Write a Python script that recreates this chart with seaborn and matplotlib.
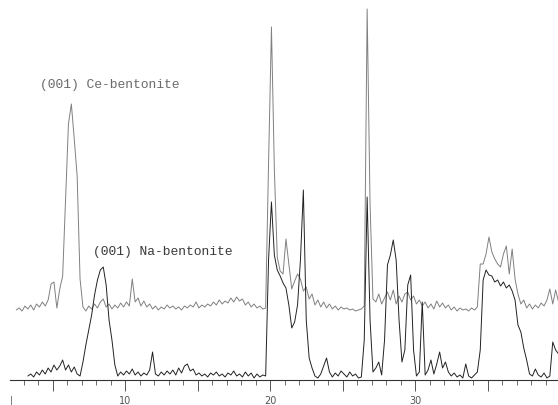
import numpy as np
import pandas as pd
import matplotlib
matplotlib.use("Agg")
import matplotlib.pyplot as plt
import seaborn as sns

sns.set_theme(style="white")

# 2-theta scan, 0.2 deg steps from 2.5 to 39.9
two_theta = np.round(np.arange(188) * 0.2 + 2.5, 2)

# Ce-bentonite intensity (a.u., own baseline), shown with an offset
ce_bentonite = [
    4, 6, 3, 8, 5, 9, 4, 10, 7, 12,
    8, 14, 30, 32, 6, 25, 38, 115, 190, 210,
    175, 138, 35, 7, 3, 8, 5, 10, 6, 12,
    15, 7, 10, 5, 9, 6, 11, 7, 12, 8,
    35, 12, 16, 8, 13, 7, 10, 5, 8, 4,
    7, 5, 9, 6, 8, 5, 7, 4, 8, 6,
    9, 7, 12, 6, 9, 7, 10, 8, 12, 9,
    14, 10, 13, 11, 16, 12, 17, 13, 15, 9,
    12, 7, 10, 6, 8, 5, 6, 150, 287, 145,
    57, 43, 40, 75, 50, 25, 33, 40, 35, 23,
    27, 15, 20, 9, 14, 7, 12, 6, 10, 5,
    8, 4, 7, 5, 6, 4, 5, 3, 4, 5,
    8, 305, 110, 15, 12, 20, 10, 16, 22, 14,
    24, 10, 18, 12, 20, 22, 14, 18, 10, 14,
    8, 12, 6, 10, 5, 13, 7, 11, 6, 9,
    4, 7, 3, 6, 4, 5, 3, 6, 4, 7,
    50, 50, 60, 77, 62, 55, 50, 47, 60, 68,
    40, 65, 35, 20, 10, 14, 6, 10, 5, 9,
    6, 11, 8, 14, 25, 10, 24, 12,
]

# Na-bentonite intensity (a.u.), scan starts a little later
na_bentonite = [
    np.nan, np.nan, np.nan, np.nan, 4, 6, 3, 8, 5, 10,
    6, 12, 8, 15, 10, 14, 20, 10, 15, 8,
    13, 6, 4, 18, 35, 50, 65, 85, 100, 110,
    113, 95, 60, 40, 15, 4, 8, 5, 9, 6,
    11, 5, 8, 4, 7, 5, 10, 28, 6, 4,
    8, 5, 9, 6, 10, 5, 12, 7, 14, 16,
    9, 11, 5, 7, 4, 6, 3, 7, 5, 8,
    4, 6, 3, 7, 5, 9, 4, 6, 3, 8,
    4, 7, 2, 6, 3, 5, 4, 120, 178, 125,
    110, 104, 97, 92, 75, 52, 58, 75, 120, 190,
    60, 22, 12, 4, 2, 6, 14, 22, 8, 3,
    7, 4, 9, 6, 3, 8, 4, 6, 2, 3,
    40, 183, 60, 8, 12, 18, 5, 40, 115, 125,
    140, 120, 60, 18, 30, 95, 105, 30, 4, 8,
    78, 5, 10, 20, 6, 16, 28, 12, 18, 8,
    4, 7, 3, 5, 2, 16, 4, 2, 5, 8,
    30, 100, 110, 105, 104, 98, 100, 94, 98, 92,
    95, 89, 80, 55, 48, 32, 20, 6, 4, 11,
    5, 3, 7, 2, 4, 38, 30, 26,
]

ce_offset = 66
tick_labels = {10: "10", 20: "20", 30: "30"}

fig = plt.figure(figsize=(5.58, 4.06), dpi=100)
ax = fig.add_axes([10 / 558, 25 / 406, 548 / 558, 381 / 406])

sns.lineplot(x=two_theta, y=np.array(ce_bentonite) + ce_offset, ax=ax,
             color="#808080", linewidth=0.7, estimator=None, sort=False)
sns.lineplot(x=two_theta, y=na_bentonite, ax=ax,
             color="#222222", linewidth=0.7, estimator=None, sort=False)

ax.set_xlim(30 / 14.5, 578 / 14.5)
ax.set_ylim(0, 381)

for side in ["top", "right", "left"]:
    ax.spines[side].set_visible(False)
ax.spines["bottom"].set_color("#333333")
ax.spines["bottom"].set_linewidth(0.8)

majors = [5, 10, 15, 20, 25, 30, 35]
ax.set_xticks(majors)
ax.set_xticklabels([tick_labels.get(m, "") for m in majors])
ax.set_xticks(np.arange(3, 40), minor=True)
ax.tick_params(axis="x", which="major", direction="out", length=8, width=0.7,
               color="#555555", labelsize=7, labelcolor="#555555", pad=3,
               bottom=True)
ax.tick_params(axis="x", which="minor", direction="out", length=3.5, width=0.6,
               color="#555555", bottom=True)
ax.set_yticks([])
ax.set_xlabel("")
ax.set_ylabel("")
ax.text(2.15, -15, "|", fontsize=7, color="#555555", ha="center", va="top",
        clip_on=False)

ax.text(40 / 14.5 + 1.379, 296, "(001) Ce-bentonite", family="Liberation Mono",
        fontsize=9.4, color="#6a6a6a", ha="left", va="center")
ax.text(93 / 14.5 + 1.379, 129, "(001) Na-bentonite", family="Liberation Mono",
        fontsize=9.4, color="#3a3a3a", ha="left", va="center")

fig.savefig("out.png", dpi=100, facecolor="white")
